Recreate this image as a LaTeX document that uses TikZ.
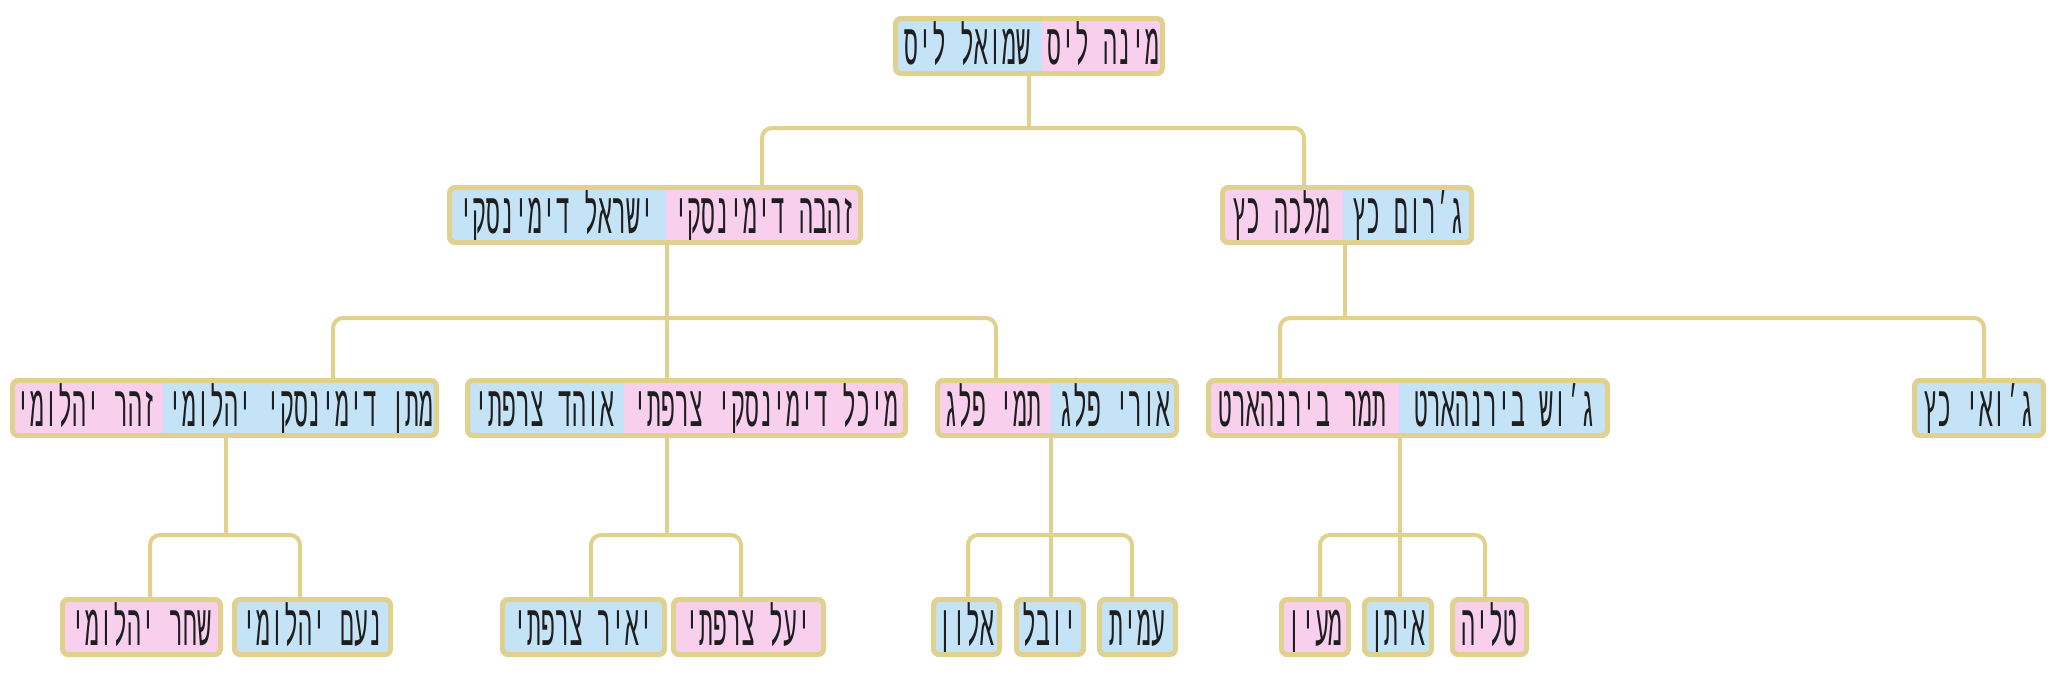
\documentclass[tikz,border=0pt]{standalone}
\usepackage{fontspec}
\usetikzlibrary{backgrounds}
\TeXXeTstate=1
\newfontfamily\heb[Script=Hebrew,FakeStretch=0.40]{Liberation Mono}
\definecolor{framec}{HTML}{E0D18E}
\definecolor{bluec}{HTML}{C5E3F6}
\definecolor{pinkc}{HTML}{F8D0EE}
\definecolor{inkc}{HTML}{1E1E1E}
\tikzset{
  person/.style={anchor=north west, inner sep=0pt, outer sep=0pt, minimum height=60pt,
    font=\heb\fontsize{58pt}{62pt}\selectfont, text=inkc, text height=36pt, text depth=0pt},
  framebox/.style={draw=framec, line width=5pt, rounded corners=6pt, inner sep=0pt,
    minimum height=55pt},
  conn/.style={draw=framec, line width=4pt, rounded corners=10pt},
}
\newcommand\famcouple[9]{%
  \begin{scope}
    \clip[rounded corners=8pt] (#2,#5) rectangle (#4,{#5+60});
    \node[person, fill=#6, minimum width={(#3-#2)*1pt}] (#1L) at (#2,#5) {#7};
    \node[person, fill=#8, minimum width={(#4-#3)*1pt}] (#1R) at (#3,#5) {#9};
  \end{scope}
  \node[framebox, minimum width={(#4-#2-5)*1pt}] (#1) at ({(#2+#4)/2},{#5+30}) {};
}
\newcommand\famsingle[6]{%
  \begin{scope}
    \clip[rounded corners=8pt] (#2,#4) rectangle (#3,{#4+60});
    \node[person, fill=#5, minimum width={(#3-#2)*1pt}] (#1P) at (#2,#4) {#6};
  \end{scope}
  \node[framebox, minimum width={(#3-#2-5)*1pt}] (#1) at ({(#2+#3)/2},{#4+30}) {};
}
\begin{document}
\begin{tikzpicture}[x=1pt,y=-1pt]
\useasboundingbox (0,0) rectangle (2056,694);
% level 0
\famcouple{R}{893}{1042}{1165}{16}{bluec}{\beginR שמואל ליס\endR}{pinkc}{\beginR מינה ליס\endR}
% level 1
\famcouple{A}{447}{666}{863}{185}{bluec}{\beginR ישראל דימינסקי\endR}{pinkc}{\beginR זהבה דימינסקי\endR}
\famcouple{B}{1220}{1343}{1474}{185}{pinkc}{\beginR מלכה כץ\endR}{bluec}{\beginR ג׳רום כץ\endR}
% level 2
\famcouple{C}{10}{163}{439}{378}{pinkc}{\beginR זהר יהלומי\endR}{bluec}{\beginR מתן דימינסקי יהלומי\endR}
\famcouple{D}{465}{624}{908}{378}{bluec}{\beginR אוהד צרפתי\endR}{pinkc}{\beginR מיכל דימינסקי צרפתי\endR}
\famcouple{E}{935}{1051}{1179}{378}{pinkc}{\beginR תמי פלג\endR}{bluec}{\beginR אורי פלג\endR}
\famcouple{F}{1206}{1399}{1610}{378}{pinkc}{\beginR תמר בירנהארט\endR}{bluec}{\beginR ג׳וש בירנהארט\endR}
\famsingle{G}{1912}{2046}{378}{bluec}{\beginR ג׳ואי כץ\endR}
% level 3
\famsingle{H1}{60}{223}{597}{pinkc}{\beginR שחר יהלומי\endR}
\famsingle{H2}{232}{393}{597}{bluec}{\beginR נעם יהלומי\endR}
\famsingle{I1}{500}{667}{597}{bluec}{\beginR יאיר צרפתי\endR}
\famsingle{I2}{671}{826}{597}{pinkc}{\beginR יעל צרפתי\endR}
\famsingle{J1}{931}{1002}{597}{bluec}{\beginR אלון\endR}
\famsingle{J2}{1014}{1086}{597}{bluec}{\beginR יובל\endR}
\famsingle{J3}{1097}{1178}{597}{bluec}{\beginR עמית\endR}
\famsingle{K1}{1279}{1351}{597}{pinkc}{\beginR מעין\endR}
\famsingle{K2}{1362}{1434}{597}{bluec}{\beginR איתן\endR}
\famsingle{K3}{1450}{1529}{597}{pinkc}{\beginR טליה\endR}
% bar levels and attach columns
\coordinate (y0) at (0,128);
\coordinate (y1) at (0,318);
\coordinate (y2) at (0,535);
\foreach \xx in {150,226,300,333,591,667,741,762,968,996,1051,1132,1280,1304,1320,1345,1400,1485,1984}
  {\coordinate (x\xx) at (\xx,0);}
\begin{scope}[on background layer]
  \fill[white] (0,0) rectangle (2056,694);
  \draw[conn] (R.south) -- (R.south |- y0);
  \draw[conn] (A.north -| x762) |- (y0 -| x1304) -- (B.north -| x1304);
  \draw[conn] (A.south -| x667) -- (D.north -| x667);
  \draw[conn] (C.north -| x333) |- (y1 -| x996) -- (E.north -| x996);
  \draw[conn] (B.south -| x1345) -- (y1 -| x1345);
  \draw[conn] (F.north -| x1280) |- (y1 -| x1984) -- (G.north -| x1984);
  \draw[conn] (C.south -| x226) -- (y2 -| x226);
  \draw[conn] (H1.north -| x150) |- (y2 -| x300) -- (H2.north -| x300);
  \draw[conn] (D.south -| x667) -- (y2 -| x667);
  \draw[conn] (I1.north -| x591) |- (y2 -| x741) -- (I2.north -| x741);
  \draw[conn] (E.south -| x1051) -- (J2.north -| x1051);
  \draw[conn] (J1.north -| x968) |- (y2 -| x1132) -- (J3.north -| x1132);
  \draw[conn] (F.south -| x1400) -- (K2.north -| x1400);
  \draw[conn] (K1.north -| x1320) |- (y2 -| x1485) -- (K3.north -| x1485);
\end{scope}
\end{tikzpicture}
\end{document}
